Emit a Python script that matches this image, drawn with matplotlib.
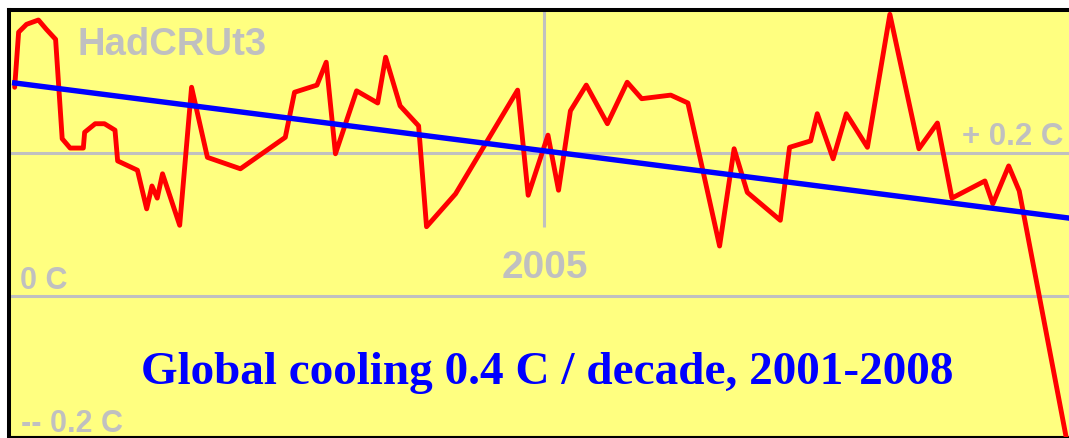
import matplotlib
matplotlib.use("Agg")
import matplotlib.pyplot as plt

# ---- data (decimal year, anomaly in C) ----
years = [2000.99, 2001.02, 2001.08, 2001.17, 2001.23, 2001.30, 2001.35, 2001.41,
         2001.51, 2001.52, 2001.60, 2001.67, 2001.75, 2001.77, 2001.92, 2001.99,
         2002.03, 2002.07, 2002.11, 2002.24, 2002.33, 2002.45, 2002.70, 2003.04,
         2003.11, 2003.28, 2003.35, 2003.42, 2003.58, 2003.74, 2003.80, 2003.91,
         2004.05, 2004.11, 2004.33, 2004.80, 2004.88, 2005.03, 2005.11, 2005.20,
         2005.32, 2005.48, 2005.63, 2005.74, 2005.96, 2006.09, 2006.33, 2006.44,
         2006.54, 2006.79, 2006.86, 2007.02, 2007.07, 2007.19, 2007.29, 2007.45,
         2007.62, 2007.84, 2007.98, 2008.09, 2008.34, 2008.40, 2008.52, 2008.60,
         2008.98]
anomaly = [0.292, 0.369, 0.380, 0.386, 0.373, 0.359, 0.220, 0.207,
           0.207, 0.229, 0.241, 0.241, 0.232, 0.189, 0.176, 0.122,
           0.154, 0.137, 0.171, 0.099, 0.292, 0.194, 0.178, 0.222,
           0.285, 0.295, 0.327, 0.199, 0.287, 0.270, 0.334, 0.266,
           0.238, 0.097, 0.143, 0.288, 0.141, 0.225, 0.148, 0.259,
           0.295, 0.241, 0.299, 0.276, 0.281, 0.270, 0.070, 0.206,
           0.145, 0.106, 0.208, 0.217, 0.255, 0.192, 0.255, 0.208,
           0.394, 0.206, 0.242, 0.137, 0.161, 0.129, 0.182, 0.147,
           -0.221]
trend_years = [2000.99, 2008.98]
trend_values = [0.298, 0.109]

series_name = "HadCRUt3"
title_text = "Global cooling 0.4 C / decade, 2001-2008"
grid_year = 2005
grid_values = [0.0, 0.2]
label_zero = "0 C"
label_plus = "+ 0.2 C"
label_minus = "-- 0.2 C"
label_year = "2005"

# ---- figure ----
W, H = 1069, 439
fig = plt.figure(figsize=(W / 100, H / 100), dpi=100)
fig.patch.set_facecolor("white")

left_px, top_px, bottom_px = 9, 10.5, 438
ax = fig.add_axes([left_px / W, (H - bottom_px) / H, 1 - left_px / W, (bottom_px - top_px) / H])
ax.set_facecolor("#ffff80")
ax.set_xlim(2000.947, 2008.977)
ax.set_ylim(-0.197, 0.4007)
ax.set_xticks([])
ax.set_yticks([])
ax.spines["right"].set_visible(False)
ax.spines["left"].set_linewidth(2.9)
ax.spines["top"].set_linewidth(2.9)
ax.spines["bottom"].set_linewidth(1.5)
for s in ("left", "top", "bottom"):
    ax.spines[s].set_color("black")

grey = "#c0c0c0"
for gv in grid_values:
    ax.axhline(gv, color=grey, lw=2.2, zorder=1)
ax.vlines(grid_year, 0.097, 0.41, color=grey, lw=2.2, zorder=1)

ax.plot(years, anomaly, color="#ff0000", lw=3.5, zorder=3,
        solid_joinstyle="round", solid_capstyle="round", clip_on=True)
ax.plot(trend_years, trend_values, color="#0000ff", lw=3.9, zorder=4)

sans = ["Liberation Sans", "DejaVu Sans"]


def ftext(x, y, s, **kw):
    fig.text(x / W, 1 - y / H, s, **kw)


ftext(77, 55, series_name, family=sans, weight="bold", size=27.5, color=grey,
      ha="left", va="baseline", zorder=2)
ftext(20, 289, label_zero, family=sans, weight="bold", size=22, color=grey,
      ha="left", va="baseline")
ftext(1063, 145, label_plus, family=sans, weight="bold", size=22.5, color=grey,
      ha="right", va="baseline")
ftext(21, 432, label_minus, family=sans, weight="bold", size=22, color=grey,
      ha="left", va="baseline")
ftext(545, 278, label_year, family=sans, weight="bold", size=28, color=grey,
      ha="center", va="baseline")
ftext(141, 384, title_text, family=["Liberation Serif", "DejaVu Serif"], weight="bold",
      size=34, color="#0000ff", ha="left", va="baseline", zorder=5)

fig.savefig("out.png", dpi=100, facecolor="white")
